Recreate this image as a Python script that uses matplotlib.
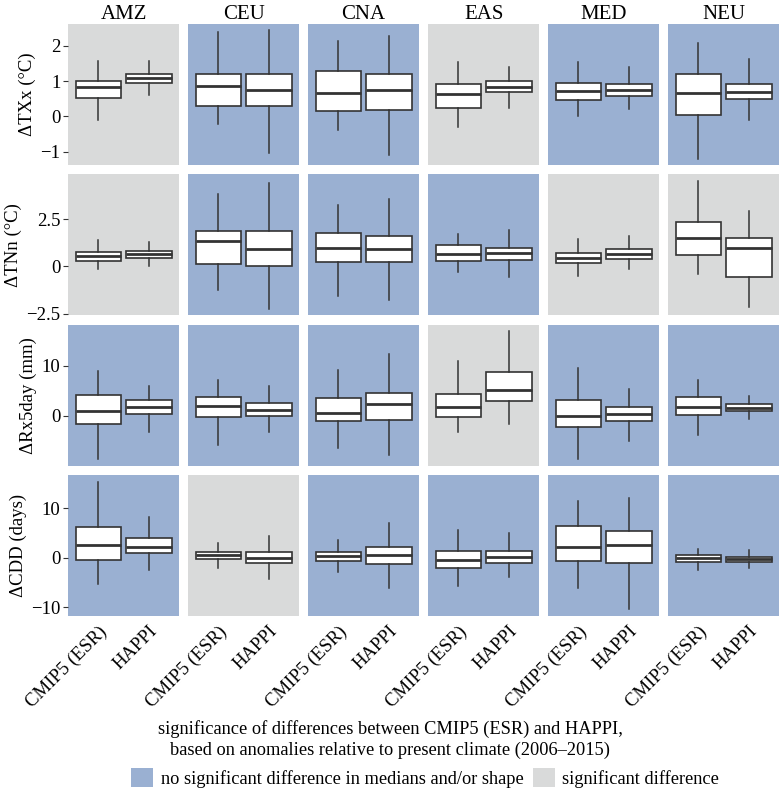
import matplotlib
matplotlib.use("Agg")
import matplotlib.pyplot as plt
from matplotlib.patches import Patch

plt.rcParams['font.family'] = ['Liberation Serif', 'DejaVu Serif']

regions = ["AMZ", "CEU", "CNA", "EAS", "MED", "NEU"]
models = ["CMIP5 (ESR)", "HAPPI"]
indices = ["ΔTXx (°C)", "ΔTNn (°C)", "ΔRx5day (mm)", "ΔCDD (days)"]

# boxplot stats per index, per region: [cmip5, happi], each (whislo, q1, med, q3, whishi)
txx = [
    [(-0.11, 0.52, 0.82, 1.01, 1.56), (0.60, 0.96, 1.09, 1.20, 1.56)],
    [(-0.23, 0.30, 0.85, 1.20, 2.39), (-1.05, 0.30, 0.76, 1.20, 2.46)],
    [(-0.39, 0.16, 0.66, 1.28, 2.13), (-1.09, 0.19, 0.75, 1.20, 2.29)],
    [(-0.29, 0.24, 0.64, 0.91, 1.54), (0.25, 0.70, 0.82, 0.99, 1.39)],
    [(0.00, 0.47, 0.71, 0.94, 1.55), (0.21, 0.58, 0.74, 0.91, 1.40)],
    [(-1.22, 0.03, 0.66, 1.19, 2.09), (-0.10, 0.48, 0.69, 0.93, 1.63)],
]
tnn = [
    [(-0.14, 0.30, 0.55, 0.78, 1.38), (0.00, 0.46, 0.65, 0.83, 1.29)],
    [(-1.23, 0.12, 1.34, 1.89, 3.85), (-2.24, 0.04, 0.94, 1.89, 4.43)],
    [(-1.57, 0.23, 0.97, 1.78, 3.26), (-1.76, 0.23, 0.90, 1.60, 3.54)],
    [(-0.30, 0.30, 0.63, 1.11, 1.73), (-0.57, 0.32, 0.69, 0.97, 1.90)],
    [(-0.51, 0.17, 0.46, 0.72, 1.43), (-0.16, 0.39, 0.63, 0.92, 1.62)],
    [(-0.39, 0.58, 1.50, 2.35, 4.51), (-2.15, -0.55, 0.95, 1.50, 2.95)],
]
rx5day = [
    [(-8.6, -1.73, 1.0, 4.13, 9.0), (-3.27, 0.4, 1.8, 3.07, 6.0)],
    [(-5.8, -0.27, 2.0, 3.73, 7.13), (-3.27, 0.0, 1.13, 2.53, 5.87)],
    [(-6.47, -1.0, 0.53, 3.53, 9.07), (-7.93, -0.8, 2.27, 4.53, 12.4)],
    [(-3.27, -0.27, 1.8, 4.33, 10.87), (-1.73, 2.93, 5.2, 8.67, 17.0)],
    [(-8.67, -2.33, 0.0, 3.07, 9.6), (-5.0, -1.0, 0.33, 1.8, 5.33)],
    [(-3.93, 0.13, 1.67, 3.73, 7.2), (-0.67, 1.0, 1.6, 2.27, 4.0)],
]
cdd = [
    [(-5.27, -0.4, 2.53, 6.13, 15.3), (-2.47, 0.87, 2.27, 4.0, 8.27)],
    [(-2.0, -0.33, 0.47, 1.07, 3.0), (-4.27, -1.13, -0.07, 1.07, 4.33)],
    [(-2.87, -0.6, 0.33, 1.13, 3.6), (-6.0, -1.33, 0.47, 2.13, 7.0)],
    [(-5.73, -2.0, -0.47, 1.4, 5.6), (-3.8, -1.0, 0.07, 1.4, 5.0)],
    [(-6.0, -0.73, 2.13, 6.33, 11.47), (-10.33, -1.07, 2.53, 5.47, 12.13)],
    [(-2.4, -0.93, -0.07, 0.6, 1.8), (-2.07, -0.8, -0.27, 0.2, 1.6)],
]
all_stats = [txx, tnn, rx5day, cdd]

# 1 = significant difference (grey), 0 = not significant (blue)
signif = [
    [1, 0, 0, 1, 0, 0],
    [1, 0, 0, 0, 1, 1],
    [0, 0, 0, 1, 0, 0],
    [0, 1, 0, 0, 0, 0],
]

ylims = [(-1.38, 2.62), (-2.59, 4.87), (-10.0, 18.2), (-11.7, 16.7)]
yticks = [[-1, 0, 1, 2], [-2.5, 0, 2.5], [0, 10], [-10, 0, 10]]
yticklabels = [["−1", "0", "1", "2"], ["−2.5", "0", "2.5"], ["0", "10"], ["−10", "0", "10"]]

blue = "#9AB0D2"
grey = "#D9DADA"
line = "#333333"

fig = plt.figure(figsize=(7.8, 7.96), dpi=100)
W, H = 780, 796
left, panel_w, gap_w = 68, 111.2, 8.8
top, panel_h, gap_h = 24, 141.0, 9.3

for r in range(4):
    for c in range(6):
        x0 = left + c * (panel_w + gap_w)
        y0 = top + r * (panel_h + gap_h)
        ax = fig.add_axes([x0 / W, 1 - (y0 + panel_h) / H, panel_w / W, panel_h / H])
        ax.set_facecolor(grey if signif[r][c] else blue)
        stats = []
        for m, s in zip(models, all_stats[r][c]):
            stats.append(dict(label=m, whislo=s[0], q1=s[1], med=s[2], q3=s[3], whishi=s[4], fliers=[]))
        ax.bxp(stats, positions=[1, 2], widths=0.9, patch_artist=True, showcaps=False,
               boxprops=dict(facecolor="white", edgecolor=line, linewidth=1.2),
               medianprops=dict(color=line, linewidth=2.0),
               whiskerprops=dict(color=line, linewidth=1.1))
        ax.set_xlim(0.4, 2.6)
        ax.set_ylim(*ylims[r])
        for sp in ax.spines.values():
            sp.set_visible(False)
        ax.set_yticks(yticks[r])
        if c == 0:
            ax.set_yticklabels(yticklabels[r], fontsize=13.5)
            ax.tick_params(axis="y", length=3.5, width=0.8, color=line, pad=2)
            ax.set_ylabel(indices[r], fontsize=13.5, labelpad=3)
        else:
            ax.tick_params(axis="y", left=False, labelleft=False)
        if r == 3:
            ax.set_xticks([1, 2])
            ax.set_xticklabels(models, rotation=45, ha="right", va="top",
                               rotation_mode="anchor", fontsize=13.5)
            ax.tick_params(axis="x", length=0, pad=5)
        else:
            ax.tick_params(axis="x", bottom=False, labelbottom=False)
        if r == 0:
            ax.set_title(regions[c], fontsize=15, pad=3)

fig.text(390 / W, 1 - 729 / H, "significance of differences between CMIP5 (ESR) and HAPPI,",
         ha="center", va="center", fontsize=13.2)
fig.text(390 / W, 1 - 750 / H, "based on anomalies relative to present climate (2006–2015)",
         ha="center", va="center", fontsize=13.2)

handles = [Patch(facecolor=blue, edgecolor="none", label="no significant difference in medians and/or shape"),
           Patch(facecolor=grey, edgecolor="none", label="significant difference")]
fig.legend(handles=handles, loc="center", bbox_to_anchor=(425 / W, 1 - 778 / H), ncol=2,
           frameon=False, fontsize=13.2, handlelength=1.2, handleheight=1.2,
           handletextpad=0.4, columnspacing=0.5, borderaxespad=0)

fig.savefig("out.png", dpi=100)
